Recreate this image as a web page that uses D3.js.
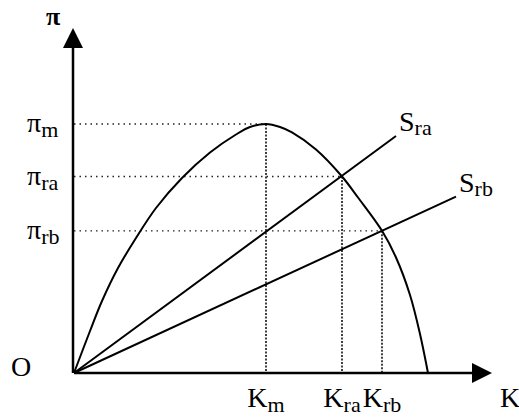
<!DOCTYPE html>
<html>
<head>
<meta charset="utf-8">
<script src="https://cdn.jsdelivr.net/npm/d3@7"></script>
<style>
  body { margin: 0; background: #fff; }
  text { font-family: "Liberation Serif", "Times New Roman", serif; fill: #000; }
</style>
</head>
<body>
<div id="chart"></div>
<script>
// Profit curve pi(K)
const curveK  = [0, 4, 7, 11, 15.5, 20.5, 27, 34, 40.5, 44, 48, 51.5, 54.5, 60.5, 67, 71, 77, 80.5, 84, 86.5, 88.5];
const curvePi = [0, 14, 24, 35, 45, 55, 65, 73.5, 79.5, 82, 83, 82, 80.2, 74.5, 65.5, 58.5, 47.4, 38.5, 26, 13, 0];

// Rays s_ra, s_rb from the origin (end points)
const rayNames = ['ra', 'rb'];
const rayEndK  = [80.5, 95.5];
const rayEndPi = [79, 58.8];

// Marked points: m (maximum), ra, rb
const markNames = ['m', 'ra', 'rb'];
const markK  = [48, 67, 77];
const markPi = [83, 65.5, 47.4];

const axisMaxK = 104.5;
const axisMaxPi = 115;

const width = 519, height = 419;

const svg = d3.select('#chart')
    .append('svg')
    .attr('width', width)
    .attr('height', height);

const x = d3.scaleLinear().domain([0, 100]).range([74, 474]);
const y = d3.scaleLinear().domain([0, 100]).range([373, 73]);

// Dotted guide lines
const guides = svg.append('g');
markK.forEach((k, i) => {
    guides.append('line')
        .attr('x1', x(0)).attr('x2', x(k))
        .attr('y1', y(markPi[i])).attr('y2', y(markPi[i]))
        .attr('stroke', '#222')
        .attr('stroke-width', 1.3)
        .attr('stroke-dasharray', '1.5,4');
    guides.append('line')
        .attr('x1', x(k)).attr('x2', x(k))
        .attr('y1', y(markPi[i])).attr('y2', y(0))
        .attr('stroke', '#111')
        .attr('stroke-width', 1.6)
        .attr('stroke-dasharray', '2,1.5');
});

// Axes with arrow heads
svg.append('line')
    .attr('x1', x(0)).attr('y1', y(0))
    .attr('x2', x(axisMaxK) - 15).attr('y2', y(0))
    .attr('stroke', '#000').attr('stroke-width', 2.5);
svg.append('line')
    .attr('x1', x(0) - 1).attr('y1', y(0))
    .attr('x2', x(0) - 1).attr('y2', y(axisMaxPi) + 15)
    .attr('stroke', '#000').attr('stroke-width', 2.5);

const xt = x(axisMaxK), yt = y(axisMaxPi);
svg.append('path')
    .attr('d', `M${xt},${y(0)} L${xt - 20},${y(0) - 10} L${xt - 20},${y(0) + 10} Z`)
    .attr('fill', '#000');
svg.append('path')
    .attr('d', `M${x(0) - 1},${yt} L${x(0) - 11},${yt + 20} L${x(0) + 9},${yt + 20} Z`)
    .attr('fill', '#000');

// Profit curve
const curveData = curveK.map((k, i) => [k, curvePi[i]]);
const line = d3.line()
    .x(d => x(d[0]))
    .y(d => y(d[1]))
    .curve(d3.curveCatmullRom.alpha(0.5));

svg.append('path')
    .datum(curveData)
    .attr('d', line)
    .attr('fill', 'none')
    .attr('stroke', '#000')
    .attr('stroke-width', 2);

// Rays
rayNames.forEach((name, i) => {
    svg.append('line')
        .attr('x1', x(0)).attr('y1', y(0))
        .attr('x2', x(rayEndK[i])).attr('y2', y(rayEndPi[i]))
        .attr('stroke', '#000')
        .attr('stroke-width', 2);

    const t = svg.append('text')
        .attr('x', x(rayEndK[i]) + 3)
        .attr('y', y(rayEndPi[i]) - 5)
        .style('font-size', '28px');
    t.append('tspan').text('S');
    t.append('tspan').attr('dy', 4).style('font-size', '22px').text(name);
});

// Labels on the axes
function subLabel(px, py, main, sub, anchor) {
    const t = svg.append('text')
        .attr('x', px)
        .attr('y', py)
        .attr('text-anchor', anchor)
        .style('font-size', '28px');
    t.append('tspan').text(main);
    t.append('tspan').attr('dy', 5).style('font-size', '22px').text(sub);
}

markNames.forEach((name, i) => {
    subLabel(x(markK[i]), y(0) + 34, 'K', name, 'middle');
    subLabel(27, y(markPi[i]) + 8, 'π', name, 'start');
});

svg.append('text')
    .attr('x', 500).attr('y', y(0) + 34)
    .style('font-size', '28px')
    .text('K');

svg.append('text')
    .attr('x', 53).attr('y', 25)
    .attr('text-anchor', 'middle')
    .style('font-size', '26px')
    .style('font-weight', 'bold')
    .text('π');

svg.append('text')
    .attr('x', 11).attr('y', 376)
    .style('font-size', '28px')
    .text('O');
</script>
</body>
</html>
